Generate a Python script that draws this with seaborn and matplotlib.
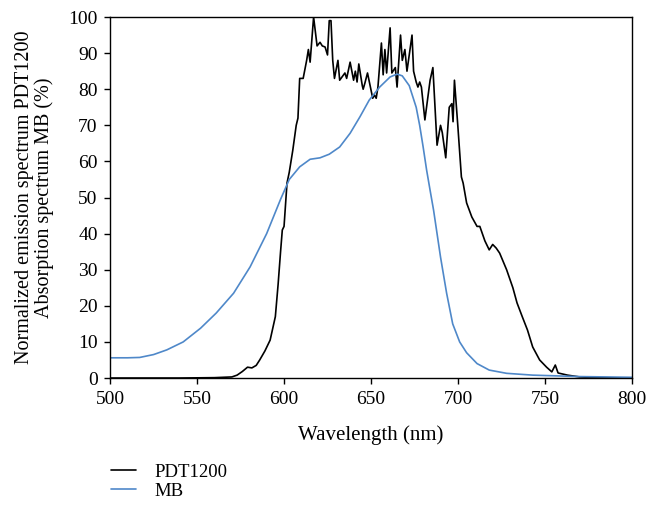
import pandas as pd
import seaborn as sns
import matplotlib.pyplot as plt

sns.set_style("ticks")
plt.rcParams['font.family'] = ['Liberation Serif', 'DejaVu Serif']
plt.rcParams['text.color'] = 'black'
plt.rcParams['axes.labelcolor'] = 'black'

# PDT1200 emission (normalized, %)
pdt_nm = [500, 520, 540, 560, 570, 573, 576, 579, 581.5, 584, 586, 589, 592, 595, 596.6,
          598, 599, 600, 601.7, 603, 605, 607, 608, 609, 611, 613, 614, 615, 617, 619,
          620.7, 622, 623.6, 625, 626, 627, 628, 629, 631, 632, 635, 636, 638, 640, 641,
          642, 643, 645, 645.5, 646.5, 648, 651, 652, 653, 654, 656, 657, 658, 659, 661,
          662, 664, 665, 667, 668, 669.5, 670.7, 673.6, 674.5, 676, 677, 678, 679, 681,
          684, 685.6, 688, 690, 691, 693, 695, 696.5, 697.2, 698, 700, 702, 703, 705,
          708, 711, 712.6, 715.5, 718, 720, 722, 724, 728, 731.6, 734, 737, 740, 743,
          747, 751, 754, 756, 757.6, 763, 770, 780, 800]
pdt_val = [0, 0, 0, 0.1, 0.3, 0.8, 1.8, 3, 2.8, 3.5, 5, 7.5, 10.5, 17, 26,
           35, 41, 42, 54, 57, 63, 70, 72, 83, 83, 88, 91, 87.5, 100, 92,
           93, 92, 91.7, 89.5, 99, 99, 88, 83, 88, 82.5, 84.5, 83, 87.5, 82.5, 85,
           82, 87, 81, 80, 81.7, 84.5, 77.5, 78.4, 77.5, 80.6, 92.8, 84, 91, 84.5, 97,
           84.5, 86, 80.6, 95, 88, 91, 85, 95, 85, 82, 80.6, 82, 80.6, 71.5,
           82.5, 86, 64.5, 70, 68, 61, 75, 76, 71, 82.5, 69.5, 55.7, 54, 48.5,
           44.6, 42, 42, 38, 35.5, 37, 36, 34.6, 30, 25, 20.8, 17, 13.3, 8.6,
           5, 3, 1.7, 3.6, 1.4, 0.8, 0.3, 0.1, 0]

# MB absorption (%)
mb_nm = [500, 510, 517, 525, 532.6, 542, 552, 561, 571, 580.5, 590, 598, 603, 609, 615,
         620.7, 626, 632, 638, 643.7, 649, 655, 661, 665, 668, 672, 676, 678, 680, 682,
         684, 686, 690, 693.5, 697, 701, 705, 711, 718, 728, 743, 770, 800]
mb_val = [5.6, 5.6, 5.7, 6.5, 7.8, 10, 13.8, 18, 23.5, 30.8, 40, 49.5, 55, 58.5, 60.6,
          61, 62, 64, 67.8, 72.4, 77, 80.6, 83.4, 84.2, 83.7, 81, 75, 70, 64, 57.6,
          52, 46.5, 33.5, 23.5, 15, 10, 7, 4, 2.2, 1.3, 0.8, 0.4, 0.2]

df = pd.concat([
    pd.DataFrame({'nm': pdt_nm, 'val': pdt_val, 'series': 'PDT1200'}),
    pd.DataFrame({'nm': mb_nm, 'val': mb_val, 'series': 'MB'}),
])

fig = plt.figure(figsize=(6.48, 5.07), dpi=100)
ax = fig.add_axes([0.17, 0.2544, 0.805, 0.712])

sns.lineplot(data=df, x='nm', y='val', hue='series', ax=ax, estimator=None,
             sort=False, palette={'PDT1200': 'black', 'MB': '#4f88c9'}, linewidth=1.2)

ax.set_xlim(500, 800)
ax.set_ylim(0, 100)
ax.set_xticks(range(500, 801, 50))
ax.set_yticks(range(0, 101, 10))
ax.tick_params(labelsize=14, direction='out', length=4, width=1, colors='black', pad=5)
for s in ax.spines.values():
    s.set_color('black')
    s.set_linewidth(1)
ax.set_xlabel('Wavelength (nm)', fontsize=15, labelpad=12.5)
ax.set_ylabel('Normalized emission spectrum PDT1200\nAbsorption spectrum MB (%)',
              fontsize=14.5, linespacing=1.05, labelpad=10)

handles, labels = ax.get_legend_handles_labels()
ax.legend(handles, labels, loc='upper left', bbox_to_anchor=(0.159, 0.1005),
          bbox_transform=fig.transFigure, frameon=False, fontsize=13.5,
          handlelength=1.35, handletextpad=1.0, labelspacing=0.1, borderaxespad=0)

fig.savefig('out.png', dpi=100)
